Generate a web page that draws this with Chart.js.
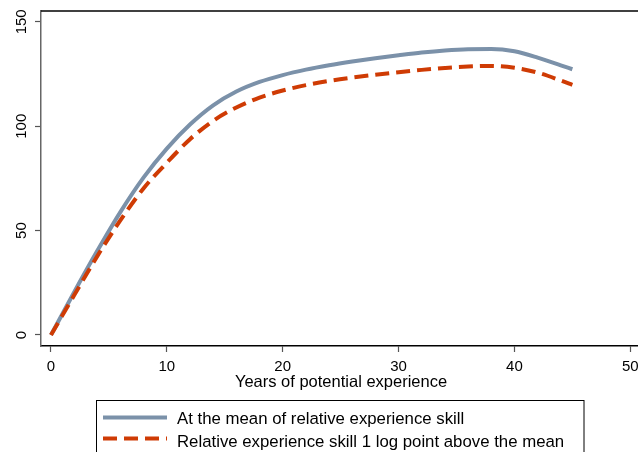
<!DOCTYPE html>
<html lang="en">
<head>
    <meta charset="UTF-8">
    <title>Experience profiles</title>
    <script src="https://cdn.jsdelivr.net/npm/chart.js"></script>
    <style>
        html, body { margin: 0; padding: 0; background: #fff; overflow: hidden; }
        #wrap { width: 680px; height: 452px; }
    </style>
</head>
<body>
    <div id="wrap"><canvas id="chart" width="680" height="452"></canvas></div>

    <script>
        // years of potential experience
        const years = [0, 2, 4, 6, 8, 10, 12, 14, 16, 18, 20, 22, 24, 26, 28, 30, 32, 34, 36, 38, 40, 42, 44, 45];
        // at the mean of relative experience skill
        const meanSkill = [0, 20.5, 40.3, 59, 75.5, 89.3, 100.8, 110, 116.6, 121.2, 124.5, 127.1, 129.2, 131, 132.6, 134, 135.3, 136.3, 136.9, 137, 135.9, 132.9, 129.2, 127.3];
        // relative experience skill 1 log point above the mean
        const aboveSkill = [0, 19, 37.8, 55, 70.3, 82.5, 93.8, 102.6, 109, 113.7, 117.1, 119.7, 121.7, 123.3, 124.7, 125.9, 127, 127.9, 128.6, 128.9, 128, 125.7, 121.9, 119.8];

        const xTicks = [0, 10, 20, 30, 40, 50];
        const yTicks = [0, 50, 100, 150];
        const seriesLabels = ['At the mean of relative experience skill', 'Relative experience skill 1 log point above the mean'];
        const xTitle = 'Years of potential experience';

        const GRAY = '#7b91a9';
        const ORANGE = '#cf3b04';
        const FONT = '"Liberation Sans", Arial, sans-serif';

        // frame, rotated y labels, axis title and the boxed legend
        const stataBits = {
            id: 'stataBits',
            afterDraw(chart) {
                const ctx = chart.ctx;
                const a = chart.chartArea;
                const ys = chart.scales.y;
                ctx.save();

                // top border of the plot region
                ctx.strokeStyle = '#000';
                ctx.lineWidth = 1.5;
                ctx.beginPath();
                ctx.moveTo(a.left, a.top);
                ctx.lineTo(a.right, a.top);
                ctx.stroke();

                // y tick labels, read bottom to top
                ctx.fillStyle = '#000';
                ctx.font = '15px ' + FONT;
                ctx.textAlign = 'center';
                ctx.textBaseline = 'middle';
                yTicks.forEach(v => {
                    const py = ys.getPixelForValue(v);
                    ctx.save();
                    ctx.translate(22, py);
                    ctx.rotate(-Math.PI / 2);
                    ctx.fillText(String(v), 0, 0);
                    ctx.restore();
                });

                // x axis title
                ctx.font = '16.5px ' + FONT;
                ctx.textBaseline = 'alphabetic';
                ctx.fillText(xTitle, 341, 386.5);

                // legend box
                ctx.strokeStyle = '#000';
                ctx.lineWidth = 1;
                ctx.strokeRect(96.5, 400.5, 487.5, 80);

                ctx.lineWidth = 4;
                ctx.strokeStyle = GRAY;
                ctx.beginPath();
                ctx.moveTo(103, 417.5);
                ctx.lineTo(167, 417.5);
                ctx.stroke();

                ctx.strokeStyle = ORANGE;
                ctx.setLineDash([14, 7]);
                ctx.beginPath();
                ctx.moveTo(103, 438.5);
                ctx.lineTo(167, 438.5);
                ctx.stroke();
                ctx.setLineDash([]);

                ctx.font = '16.8px ' + FONT;
                ctx.textAlign = 'left';
                ctx.fillText(seriesLabels[0], 177, 424);
                ctx.fillText(seriesLabels[1], 177, 446.5);

                ctx.restore();
            }
        };

        new Chart(document.getElementById('chart'), {
            type: 'line',
            data: {
                labels: years,
                datasets: [{
                    label: seriesLabels[0],
                    data: years.map((x, i) => ({ x: x, y: meanSkill[i] })),
                    borderColor: GRAY,
                    borderWidth: 4,
                    pointRadius: 0,
                    cubicInterpolationMode: 'monotone',
                    order: 2
                }, {
                    label: seriesLabels[1],
                    data: years.map((x, i) => ({ x: x, y: aboveSkill[i] })),
                    borderColor: ORANGE,
                    borderWidth: 4,
                    borderDash: [14, 7],
                    pointRadius: 0,
                    cubicInterpolationMode: 'monotone',
                    order: 1
                }]
            },
            options: {
                responsive: false,
                devicePixelRatio: 1,
                animation: false,
                layout: { padding: { top: 11, right: 30, left: 0, bottom: 0 } },
                plugins: {
                    legend: { display: false },
                    tooltip: { enabled: false }
                },
                scales: {
                    x: {
                        type: 'linear',
                        min: -0.86,
                        max: 51.7,
                        afterBuildTicks: s => { s.ticks = xTicks.map(v => ({ value: v })); },
                        afterFit: s => { s.height = 106; },
                        grid: { drawOnChartArea: false, drawTicks: true, tickLength: 6, tickColor: '#555', tickWidth: 1.2 },
                        border: { display: true, color: '#000', width: 1.5 },
                        ticks: { color: '#000', font: { family: FONT, size: 15 }, padding: 6, maxRotation: 0 }
                    },
                    y: {
                        min: -5.27,
                        max: 155.2,
                        afterBuildTicks: s => { s.ticks = yTicks.map(v => ({ value: v })); },
                        afterFit: s => { s.width = 41; },
                        grid: { drawOnChartArea: false, drawTicks: true, tickLength: 6, tickColor: '#555', tickWidth: 1.2 },
                        border: { display: true, color: '#666', width: 1.5 },
                        ticks: { display: false }
                    }
                }
            },
            plugins: [stataBits]
        });
    </script>
</body>
</html>
